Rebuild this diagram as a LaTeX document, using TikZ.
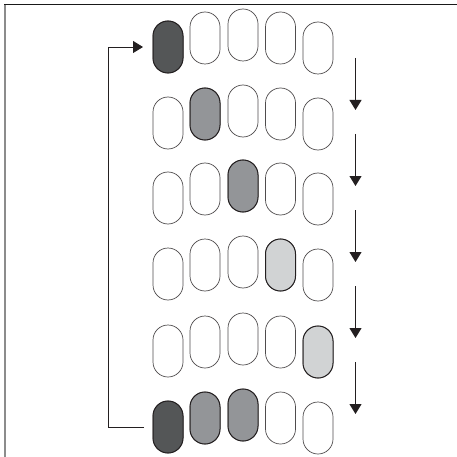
\documentclass[tikz,border=0pt]{standalone}
\usetikzlibrary{arrows.meta}
\definecolor{pdark}{HTML}{545657}
\definecolor{pmid}{HTML}{939598}
\definecolor{plight}{HTML}{D1D3D4}
\definecolor{pline}{HTML}{231F20}
\begin{document}
\begin{tikzpicture}[x=1pt,y=-1pt,
  pill/.style={draw=pline!80,line width=0.7pt,fill=white,rectangle,rounded corners=15pt,
    minimum width=30pt,minimum height=52pt,inner sep=0pt,outer sep=0pt},
  fdark/.style={fill=pdark,draw=pline,line width=1pt},
  fmid/.style={fill=pmid,draw=pline,line width=1pt},
  flight/.style={fill=plight,draw=pline,line width=1pt},
  flow/.style={draw=pline,line width=1.1pt,-{Triangle[length=10pt,width=12pt]}},
  loopline/.style={draw=pline,line width=0.9pt}]
\useasboundingbox (0,0) rectangle (457,457);
% frame
\draw[black!90,line width=1pt] (4,5) -- (457,5);
\draw[black!45,line width=1.6pt] (5,5) -- (5,457);
% pills
\def\colx{{168,205,243,280.5,318}}
\def\offs{{0,-9,-12,-9,1}}
\def\rowy{{47,123,198,274,351,427}}
\foreach \r in {1,...,6}{
  \foreach \c in {1,...,5}{
    \pgfmathsetmacro{\px}{\colx[\c-1]}
    \pgfmathsetmacro{\py}{\rowy[\r-1]+\offs[\c-1]}
    \node[pill] (p\r\c) at (\px,\py) {};
  }
}
% shaded pills
\node[pill,fdark] at (p11) {};
\node[pill,fmid] at (p22) {};
\node[pill,fmid] at (p33) {};
\node[pill,flight] at (p44) {};
\node[pill,flight] at (p55) {};
\node[pill,fdark] at (p61) {};
\node[pill,fmid] at (p62) {};
\node[pill,fmid] at (p63) {};
% loop connector
\coordinate (lb) at (108,427);
\coordinate (lt) at (108,47);
\draw[loopline,-{Triangle[length=10pt,width=12pt]},shorten <=9pt,shorten >=10pt]
  (p61.west) -- (lb) -- (lt) -- (p11.west);
% step arrows
\foreach \i in {0,...,4}{
  \coordinate (s\i) at (355.5,58+76*\i);
  \coordinate (e\i) at (355.5,110+76*\i);
  \draw[flow] (s\i) -- (e\i);
}
\end{tikzpicture}
\end{document}
